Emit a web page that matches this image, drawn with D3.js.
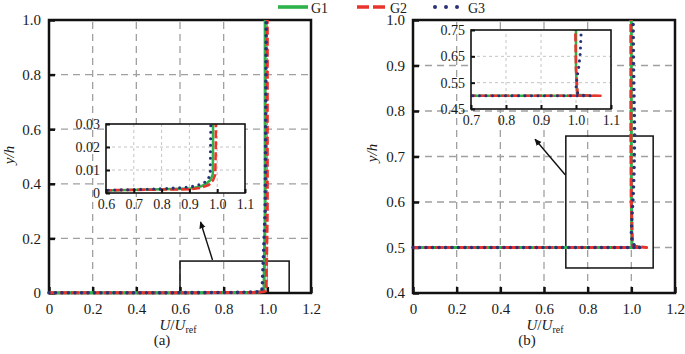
<!DOCTYPE html>
<html><head><meta charset="utf-8">
<script src="https://cdn.jsdelivr.net/npm/d3@7"></script>
<style>
body{margin:0;background:#fff}
svg{display:block}
svg text{font-family:"Liberation Serif","Times New Roman",Times,serif !important;fill:#1a1a1a}
</style>
</head><body><svg id="c" width="685" height="354"></svg>
<script>
// ---------- data ----------
const seriesNames = ["G1", "G2", "G3"];
const seriesColors = ["#2db34a", "#e8342b", "#2b3178"];

// panel (a): boundary-layer profiles
const aG1x = [0, 0.2, 0.4, 0.6, 0.8, 0.9, 0.94, 0.96, 0.975, 0.984, 0.985, 0.985, 0.99, 0.99];
const aG1y = [0.0008, 0.0009, 0.001, 0.0011, 0.0016, 0.0019, 0.0028, 0.004, 0.0055, 0.008, 0.02, 0.03, 0.3, 1.0];
const aG2x = [0, 0.2, 0.4, 0.6, 0.8, 0.9, 0.94, 0.97, 0.985, 0.993, 0.995, 0.995, 1.0, 1.0];
const aG2y = [0.0008, 0.0009, 0.001, 0.0012, 0.0015, 0.0016, 0.0022, 0.0035, 0.0055, 0.008, 0.02, 0.03, 0.3, 1.0];
const aG3x = [0, 0.2, 0.4, 0.6, 0.8, 0.88, 0.92, 0.95, 0.968, 0.975, 0.976, 0.977, 0.99, 0.995];
const aG3y = [0.0008, 0.0009, 0.001, 0.0012, 0.0018, 0.0024, 0.003, 0.0042, 0.006, 0.009, 0.02, 0.03, 0.3, 1.0];

// panel (b): profiles above step at y/h = 0.5
const bG1x = [0, 0.5, 1.0, 1.04, 1.003, 1.0, 1.0, 1.0];
const bG1y = [0.5, 0.5, 0.5, 0.5, 0.504, 0.6, 0.75, 1.0];
const bG2x = [0, 0.5, 1.0, 1.07, 1.005, 1.0, 0.998, 0.998];
const bG2y = [0.5, 0.5, 0.5, 0.5, 0.503, 0.6, 0.75, 1.0];
const bG3x = [0, 0.5, 1.0, 1.04, 1.02, 1.005, 1.0, 1.003, 1.008, 1.012, 1.015, 1.01, 1.008];
const bG3y = [0.5, 0.5, 0.5, 0.5, 0.502, 0.51, 0.53, 0.57, 0.61, 0.66, 0.75, 0.9, 1.0];

// ticks
const mainXTicks = [0, 0.2, 0.4, 0.6, 0.8, 1.0, 1.2];
const mainXLabels = ["0", "0.2", "0.4", "0.6", "0.8", "1.0", "1.2"];
const aYTicks = [0, 0.2, 0.4, 0.6, 0.8, 1.0];
const aYLabels = ["0", "0.2", "0.4", "0.6", "0.8", "1.0"];
const bYTicks = [0.4, 0.5, 0.6, 0.7, 0.8, 0.9, 1.0];
const bYLabels = ["0.4", "0.5", "0.6", "0.7", "0.8", "0.9", "1.0"];
const insAXTicks = [0.6, 0.7, 0.8, 0.9, 1.0, 1.1];
const insAXLabels = ["0.6", "0.7", "0.8", "0.9", "1.0", "1.1"];
const insAYTicks = [0, 0.01, 0.02, 0.03];
const insAYLabels = ["0", "0.01", "0.02", "0.03"];
const insBXTicks = [0.7, 0.8, 0.9, 1.0, 1.1];
const insBXLabels = ["0.7", "0.8", "0.9", "1.0", "1.1"];
const insBYTicks = [0.45, 0.55, 0.65, 0.75];
const insBYLabels = ["0.45", "0.55", "0.65", "0.75"];

// zoom windows & arrows (data coordinates)
const aZoomBox = {x0: 0.6, x1: 1.1, y0: 0, y1: 0.117};
const aArrow = {x0: 0.749, y0: 0.121, x1: 0.694, y1: 0.26};
const bZoomBox = {x0: 0.7, x1: 1.1, y0: 0.455, y1: 0.745};
const bArrow = {x0: 0.697, y0: 0.66, x1: 0.559, y1: 0.738};

// ---------- drawing ----------
const FONT = "'Liberation Serif', 'Times New Roman', Times, serif";
const svg = d3.select("#c");
const defs = svg.append("defs");
defs.append("marker").attr("id", "arr").attr("viewBox", "0 0 10 10")
  .attr("refX", 9).attr("refY", 5).attr("markerWidth", 7).attr("markerHeight", 7)
  .attr("markerUnits", "userSpaceOnUse").attr("orient", "auto")
  .append("path").attr("d", "M0,0.5 L10,5 L0,9.5 Z").attr("fill", "#111");

const styles = [
  {dash: null, w: 3, cap: "butt"},
  {dash: "8,3", w: 3, cap: "butt"},
  {dash: "0,6.5", w: 3.6, cap: "round"}
];

function zip(xs, ys) { return xs.map((v, i) => [v, ys[i]]); }

function drawSeries(g, x, y, data, clipId, scaleW) {
  const line = d3.line().x(d => x(d[0])).y(d => y(d[1]));
  const gg = g.append("g");
  if (clipId) gg.attr("clip-path", `url(#${clipId})`);
  data.forEach((pts, i) => {
    const st = styles[i];
    gg.append("path").attr("d", line(pts)).attr("fill", "none")
      .attr("stroke", seriesColors[i]).attr("stroke-width", st.w * scaleW)
      .attr("stroke-dasharray", st.dash).attr("stroke-linecap", st.cap)
      .attr("stroke-linejoin", "round");
  });
}

function panel(opts) {
  const {x, y, xTicks, yTicks, gridColor, gridDash, gridW} = opts;
  const g = svg.append("g");
  const [xa, xb] = x.range(), [ya, yb] = y.range();
  if (opts.bg) g.append("rect").attr("x", xa).attr("y", yb).attr("width", xb - xa)
      .attr("height", ya - yb).attr("fill", "#fff");
  const xd = x.domain(), yd = y.domain();
  g.append("g").selectAll("line").data(xTicks.filter(v => v > xd[0] + 1e-9 && v < xd[1] - 1e-9))
    .join("line").attr("x1", d => x(d)).attr("x2", d => x(d)).attr("y1", ya).attr("y2", yb)
    .attr("stroke", gridColor).attr("stroke-width", gridW).attr("stroke-dasharray", gridDash);
  g.append("g").selectAll("line").data(yTicks.filter(v => v > yd[0] + 1e-9 && v < yd[1] - 1e-9))
    .join("line").attr("y1", d => y(d)).attr("y2", d => y(d)).attr("x1", xa).attr("x2", xb)
    .attr("stroke", gridColor).attr("stroke-width", gridW).attr("stroke-dasharray", gridDash);
  return g;
}

function axes(g, opts) {
  const {x, y, xTicks, xLabels, yTicks, yLabels, fs, tick, tickW, frameW, xPad, yPad} = opts;
  const [xa, xb] = x.range(), [ya, yb] = y.range();
  const ax = g.append("g").attr("transform", `translate(0,${ya})`)
    .call(d3.axisBottom(x).tickValues(xTicks).tickFormat((d, i) => xLabels[i])
      .tickSizeInner(-tick).tickSizeOuter(0).tickPadding(xPad));
  ax.attr("font-family", FONT);
  ax.select(".domain").remove();
  ax.selectAll("line").attr("stroke", "#111").attr("stroke-width", tickW);
  ax.selectAll("text").attr("font-size", fs).attr("fill", "#1a1a1a").attr("y", xPad);
  const ay = g.append("g").attr("transform", `translate(${xa},0)`)
    .call(d3.axisLeft(y).tickValues(yTicks).tickFormat((d, i) => yLabels[i])
      .tickSizeInner(-tick).tickSizeOuter(0).tickPadding(yPad));
  ay.attr("font-family", FONT);
  ay.select(".domain").remove();
  ay.selectAll("line").attr("stroke", "#111").attr("stroke-width", tickW);
  ay.selectAll("text").attr("font-size", fs).attr("fill", "#1a1a1a").attr("x", -yPad);
  g.append("rect").attr("x", xa).attr("y", yb).attr("width", xb - xa).attr("height", ya - yb)
    .attr("fill", "none").attr("stroke", "#111").attr("stroke-width", frameW);
}

function clip(id, x, y) {
  const [xa, xb] = x.range(), [ya, yb] = y.range();
  defs.append("clipPath").attr("id", id).append("rect")
    .attr("x", xa).attr("y", yb).attr("width", xb - xa).attr("height", ya - yb);
}

const mainStyle = {fs: 15, tick: 6, tickW: 2.5, frameW: 2.5, gridColor: "#a0a0a0",
  gridDash: "7,5", gridW: 1.3, xPad: 10, yPad: 8};
const insStyle = {fs: 14, tick: 4, tickW: 2, frameW: 1.6, gridColor: "#c4c4c4",
  gridDash: "3,3", gridW: 1, xPad: 6, yPad: 6, bg: true};

function titles(cx, cy, yLabX, yLabY, tag, tagX) {
  const t = svg.append("text").attr("x", cx).attr("y", cy).attr("text-anchor", "middle")
    .attr("font-size", 15);
  t.append("tspan").attr("font-style", "italic").text("U");
  t.append("tspan").text("/");
  t.append("tspan").attr("font-style", "italic").text("U");
  t.append("tspan").attr("font-size", 10).attr("dy", 3).text("ref");
  svg.append("text").attr("x", tagX).attr("y", cy + 15).attr("text-anchor", "middle")
    .attr("font-size", 15).text(tag);
  svg.append("text").attr("transform", `translate(${yLabX},${yLabY}) rotate(-90)`)
    .attr("text-anchor", "middle").attr("font-size", 15).attr("font-style", "italic")
    .text("y/h");
}

function zoomBoxArrow(x, y, box, arrow) {
  svg.append("rect").attr("x", x(box.x0)).attr("y", y(box.y1))
    .attr("width", x(box.x1) - x(box.x0)).attr("height", y(box.y0) - y(box.y1))
    .attr("fill", "none").attr("stroke", "#111").attr("stroke-width", 1.5);
  svg.append("line").attr("x1", x(arrow.x0)).attr("y1", y(arrow.y0))
    .attr("x2", x(arrow.x1)).attr("y2", y(arrow.y1))
    .attr("stroke", "#111").attr("stroke-width", 1.4).attr("marker-end", "url(#arr)");
}

// ----- panel (a) -----
const xA = d3.scaleLinear().domain([0, 1.2]).range([49, 311]);
const yA = d3.scaleLinear().domain([0, 1]).range([293, 20]);
const oA = Object.assign({x: xA, y: yA, xTicks: mainXTicks, xLabels: mainXLabels,
  yTicks: aYTicks, yLabels: aYLabels}, mainStyle);
const gA = panel(oA);
axes(gA, oA);
zoomBoxArrow(xA, yA, aZoomBox, aArrow);
drawSeries(svg, xA, yA, [zip(aG1x, aG1y), zip(aG2x, aG2y), zip(aG3x, aG3y)], null, 1);

// inset (a)
const xIA = d3.scaleLinear().domain([0.6, 1.1]).range([106, 245]);
const yIA = d3.scaleLinear().domain([0, 0.03]).range([193, 124]);
clip("clipIA", xIA, yIA);
const oIA = Object.assign({x: xIA, y: yIA, xTicks: insAXTicks, xLabels: insAXLabels,
  yTicks: insAYTicks, yLabels: insAYLabels}, insStyle);
const gIA = panel(oIA);
drawSeries(gIA, xIA, yIA, [zip(aG1x, aG1y), zip(aG2x, aG2y), zip(aG3x, aG3y)], "clipIA", 0.85);
axes(gIA, oIA);

titles(178, 330, 14, 155, "(a)", 162);

// ----- panel (b) -----
const xB = d3.scaleLinear().domain([0, 1.2]).range([413, 675]);
const yB = d3.scaleLinear().domain([0.4, 1]).range([293, 20]);
const oB = Object.assign({x: xB, y: yB, xTicks: mainXTicks, xLabels: mainXLabels,
  yTicks: bYTicks, yLabels: bYLabels}, mainStyle);
const gB = panel(oB);
axes(gB, oB);
zoomBoxArrow(xB, yB, bZoomBox, bArrow);
drawSeries(svg, xB, yB, [zip(bG1x, bG1y), zip(bG2x, bG2y), zip(bG3x, bG3y)], null, 1);

// inset (b)
const xIB = d3.scaleLinear().domain([0.7, 1.1]).range([471, 611]);
const yIB = d3.scaleLinear().domain([0.45, 0.75]).range([109, 30]);
clip("clipIB", xIB, yIB);
const oIB = Object.assign({x: xIB, y: yIB, xTicks: insBXTicks, xLabels: insBXLabels,
  yTicks: insBYTicks, yLabels: insBYLabels}, insStyle);
const gIB = panel(oIB);
drawSeries(gIB, xIB, yIB, [zip(bG1x, bG1y), zip(bG2x, bG2y), zip(bG3x, bG3y)], "clipIB", 0.85);
axes(gIB, oIB);

titles(545, 330, 377, 153, "(b)", 527);

// ----- legend -----
const legX = [278, 357, 435];
const legDash = [null, "12,4", "0,11"];
const lg = svg.append("g");
seriesNames.forEach((n, i) => {
  lg.append("line").attr("x1", legX[i]).attr("x2", legX[i] + 30).attr("y1", 7).attr("y2", 7)
    .attr("stroke", seriesColors[i]).attr("stroke-width", i === 2 ? 4 : 3.6)
    .attr("stroke-dasharray", legDash[i]).attr("stroke-linecap", i === 2 ? "round" : "butt");
  lg.append("text").attr("x", legX[i] + 33).attr("y", 12.5).attr("font-size", 14).text(n);
});

svg.selectAll("text").style("font-family", FONT);
</script>
</body></html>
